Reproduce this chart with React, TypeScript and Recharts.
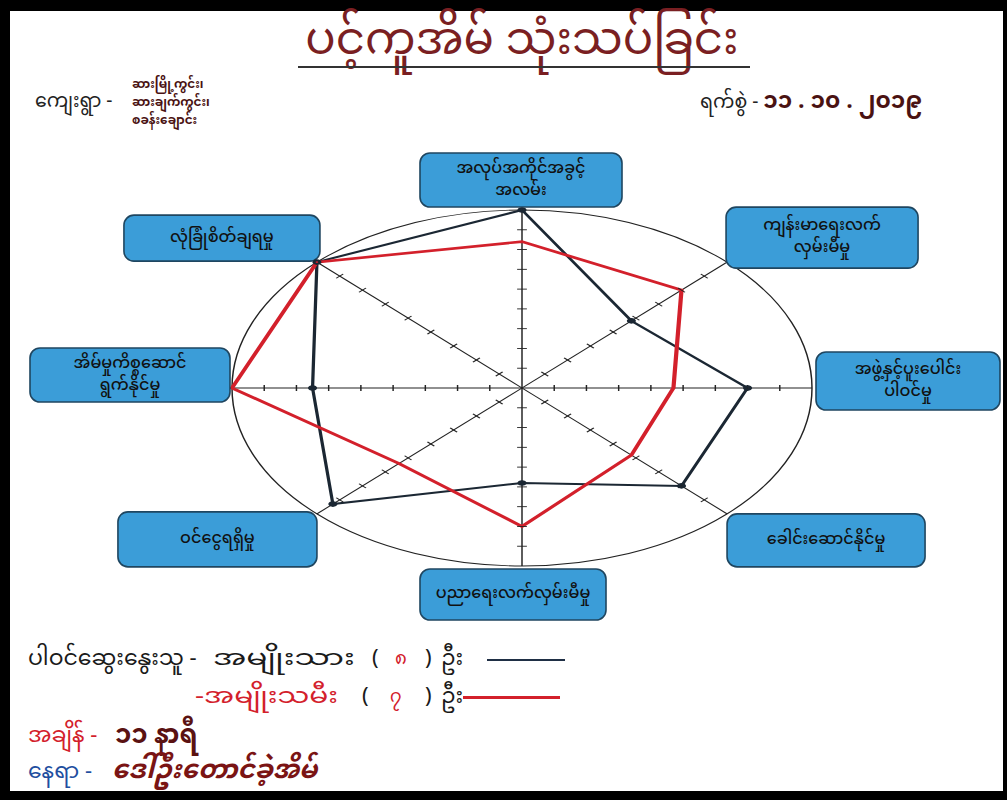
import React from 'react';
import { RadarChart, Radar, PolarGrid, PolarAngleAxis, PolarRadiusAxis } from 'recharts';

// ---------- data ----------
const categories = [
  'အလုပ်အကိုင်အခွင့်\nအလမ်း',
  'ကျန်းမာရေးလက်\nလှမ်းမီမှု',
  'အဖွဲ့နှင့်ပူးပေါင်း\nပါဝင်မှု',
  'ခေါင်းဆောင်နိုင်မှု',
  'ပညာရေးလက်လှမ်းမီမှု',
  'ဝင်ငွေရရှိမှု',
  'အိမ်မှုကိစ္စဆောင်\nရွက်နိုင်မှု',
  'လုံခြုံစိတ်ချရမှု',
];
const maleValues = [9, 4.8, 7, 7, 4.8, 8.3, 6.5, 9];
const femaleValues = [7.4, 7, 4.7, 4.8, 7, 5.4, 9, 9];
const radiusDomain: [number, number] = [0, 9];

const titleText = 'ပင့်ကူအိမ် သုံးသပ်ခြင်း';
const villageLabel = 'ကျေးရွာ -';
const villageNames = ['ဆားမြို့ကွင်း၊', 'ဆားချက်ကွင်း၊', 'စခန်းချောင်း'];
const dateLabel = 'ရက်စွဲ - ';
const dateValue = '၁၁ . ၁၀ . ၂၀၁၉';
const participantsLabel = 'ပါဝင်ဆွေးနွေးသူ -';
const maleLabel = 'အမျိုးသား';
const femaleLabel = '-အမျိုးသမီး';
const maleCount = '၈';
const femaleCount = '၇';
const personUnit = 'ဦး';
const timeLabel = 'အချိန် - ';
const timeValue = '၁၁ နာရီ';
const placeLabel = 'နေရာ - ';
const placeValue = 'ဒေါ်ဦးတောင်ခဲ့အိမ်';

const data = categories.map((c, i) => ({ category: c, male: maleValues[i], female: femaleValues[i] }));

// ---------- layout / style ----------
const MY_FONT = '"Noto Sans Myanmar", "Padauk", "Myanmar Text", "Noto Sans", "DejaVu Sans", sans-serif';
const CW = 620;
const CH = 500;
const CX = 310;
const CY = 250;
const R = 178;
const K = 290 / 178; // horizontal stretch of the hand-drawn ellipse
const CENTER_X = 522;
const CENTER_Y = 388;
const MALE_COLOR = '#1b2733';
const FEMALE_COLOR = '#d3202b';
const HAND_COLOR = '#4a1212';

const boxLayout = [
  { dx: -102, dy: -57, w: 202, h: 54 },
  { dx: -1, dy: -55, w: 192, h: 61 },
  { dx: 4, dy: -36, w: 184, h: 58 },
  { dx: 0, dy: 0, w: 198, h: 53 },
  { dx: -102, dy: 3, w: 186, h: 51 },
  { dx: -199, dy: -2, w: 199, h: 55 },
  { dx: -202, dy: -40, w: 200, h: 54 },
  { dx: -193, dy: -47, w: 196, h: 46 },
];

function CategoryBox(props: any) {
  const { x, y, index, payload } = props;
  // anchor the box on the axis end point (direction taken from the library's tick position)
  const ang = Math.atan2(y - CY, x - CX);
  const ex = CX + R * Math.cos(ang);
  const ey = CY + R * Math.sin(ang);
  const b = boxLayout[index] || boxLayout[0];
  const lines = String(payload?.value ?? '').split('\n');
  const lh = 22;
  return (
    <g transform={`translate(${ex},${ey}) scale(${1 / K},1)`}>
      <rect x={b.dx} y={b.dy} width={b.w} height={b.h} rx={10} ry={10} fill="#3b9dd8" stroke="#1f4660" strokeWidth={1.6} />
      {lines.map((l, i) => (
        <text
          key={i}
          x={b.dx + b.w / 2}
          y={b.dy + b.h / 2 + (i - (lines.length - 1) / 2) * lh}
          textAnchor="middle"
          dominantBaseline="central"
          fontFamily={MY_FONT}
          fontSize={16}
          fontWeight={500}
          fill="#111"
        >
          {l}
        </text>
      ))}
    </g>
  );
}

function RadiusTick(props: any) {
  const { x, y, payload } = props;
  const v = payload?.value;
  if (v === radiusDomain[0] || v === radiusDomain[1]) return <g />;
  const marks = [];
  for (let j = 0; j < 8; j++) {
    marks.push(
      <line
        key={j}
        x1={x - 3}
        y1={y}
        x2={x + 3}
        y2={y}
        transform={`rotate(${45 * j}, ${x}, ${CY})`}
        stroke="#222"
        strokeWidth={0.9}
      />
    );
  }
  return <g>{marks}</g>;
}

const abs = (l: number, t: number, extra: React.CSSProperties = {}): React.CSSProperties => ({
  position: 'absolute',
  left: l,
  top: t,
  whiteSpace: 'nowrap',
  fontFamily: MY_FONT,
  ...extra,
});

const LEG = { fontSize: 22, lineHeight: '32px', color: '#1a1a1a' } as React.CSSProperties;
const wide = (s: number) => ({ transform: `scaleX(${s})`, transformOrigin: '0 50%' } as React.CSSProperties);

export default function App() {
  return (
    <div style={{ position: 'absolute', left: 0, top: 0, width: 1007, height: 800, background: '#000', overflow: 'hidden' }}>
      <div style={{ position: 'absolute', left: 10, top: 11, width: 993, height: 780, background: '#fff' }} />

      {/* title */}
      <div style={abs(222, 12, { width: 600, textAlign: 'center', fontSize: 45, lineHeight: '64px', color: '#7a1f22' })}>{titleText}</div>
      <div style={{ position: 'absolute', left: 298, top: 66, width: 452, height: 2, background: '#333' }} />

      {/* header */}
      <div style={abs(35, 88, { fontSize: 19, lineHeight: '30px', color: '#222' })}>{villageLabel}</div>
      {villageNames.map((n, i) => (
        <div key={n} style={abs(132, 77 + i * 18, { fontSize: 12, lineHeight: '16px', fontWeight: 'bold', color: HAND_COLOR })}>{n}</div>
      ))}
      <div style={abs(700, 88, { fontSize: 19, lineHeight: '30px', color: '#222' })}>
        {dateLabel}
        <span style={{ fontWeight: 'bold', color: HAND_COLOR, fontSize: 23 }}>{dateValue}</span>
      </div>

      {/* radar chart (stretched horizontally to the hand-drawn ellipse) */}
      <div
        style={{
          position: 'absolute',
          left: CENTER_X - CX,
          top: CENTER_Y - CY,
          width: CW,
          height: CH,
          transform: `scaleX(${K})`,
          transformOrigin: `${CX}px ${CY}px`,
        }}
      >
        <RadarChart width={CW} height={CH} data={data} cx={CX} cy={CY} outerRadius={R} margin={{ top: 0, right: 0, bottom: 0, left: 0 }}>
          <PolarGrid gridType="circle" polarRadius={[R]} stroke="#222" strokeWidth={0.9} />
          <PolarAngleAxis dataKey="category" tick={CategoryBox} tickLine={false} axisLine={false} />
          <PolarRadiusAxis angle={90} domain={radiusDomain} tickCount={10} axisLine={false} tick={RadiusTick} />
          <Radar
            dataKey="male"
            stroke={MALE_COLOR}
            strokeWidth={2}
            fill="none"
            fillOpacity={0}
            dot={{ r: 1.8, fill: MALE_COLOR, stroke: MALE_COLOR }}
            isAnimationActive={false}
          />
          <Radar dataKey="female" stroke={FEMALE_COLOR} strokeWidth={2.6} fill="none" fillOpacity={0} dot={false} isAnimationActive={false} />
        </RadarChart>
      </div>

      {/* legend */}
      <div style={abs(28, 644, LEG)}>{participantsLabel}</div>
      <div style={abs(213, 644, { ...LEG, ...wide(1.42) })}>{maleLabel}</div>
      <div style={abs(372, 644, LEG)}>(</div>
      <div style={abs(395, 644, { ...LEG, color: FEMALE_COLOR, fontSize: 18 })}>{maleCount}</div>
      <div style={abs(425, 644, LEG)}>)</div>
      <div style={abs(441, 644, LEG)}>{personUnit}</div>
      <div style={{ position: 'absolute', left: 487, top: 659, width: 78, height: 2, background: '#1f2f45' }} />

      <div style={abs(195, 682, { ...LEG, ...wide(1.28), color: FEMALE_COLOR })}>{femaleLabel}</div>
      <div style={abs(362, 682, LEG)}>(</div>
      <div style={abs(390, 682, { ...LEG, color: FEMALE_COLOR, fontSize: 18 })}>{femaleCount}</div>
      <div style={abs(425, 682, LEG)}>)</div>
      <div style={abs(441, 682, LEG)}>{personUnit}</div>
      <div style={{ position: 'absolute', left: 463, top: 696, width: 97, height: 3, background: FEMALE_COLOR }} />

      <div style={abs(28, 721, { ...LEG, color: FEMALE_COLOR })}>{timeLabel}</div>
      <div style={abs(115, 721, { fontSize: 26, lineHeight: '32px', fontWeight: 'bold', color: '#5a1212' })}>{timeValue}</div>
      <div style={abs(28, 757, { ...LEG, color: '#1f4fa0' })}>{placeLabel}</div>
      <div style={abs(112, 756, { fontSize: 26, lineHeight: '32px', fontWeight: 'bold', fontStyle: 'italic', color: '#7a1414' })}>{placeValue}</div>
    </div>
  );
}
